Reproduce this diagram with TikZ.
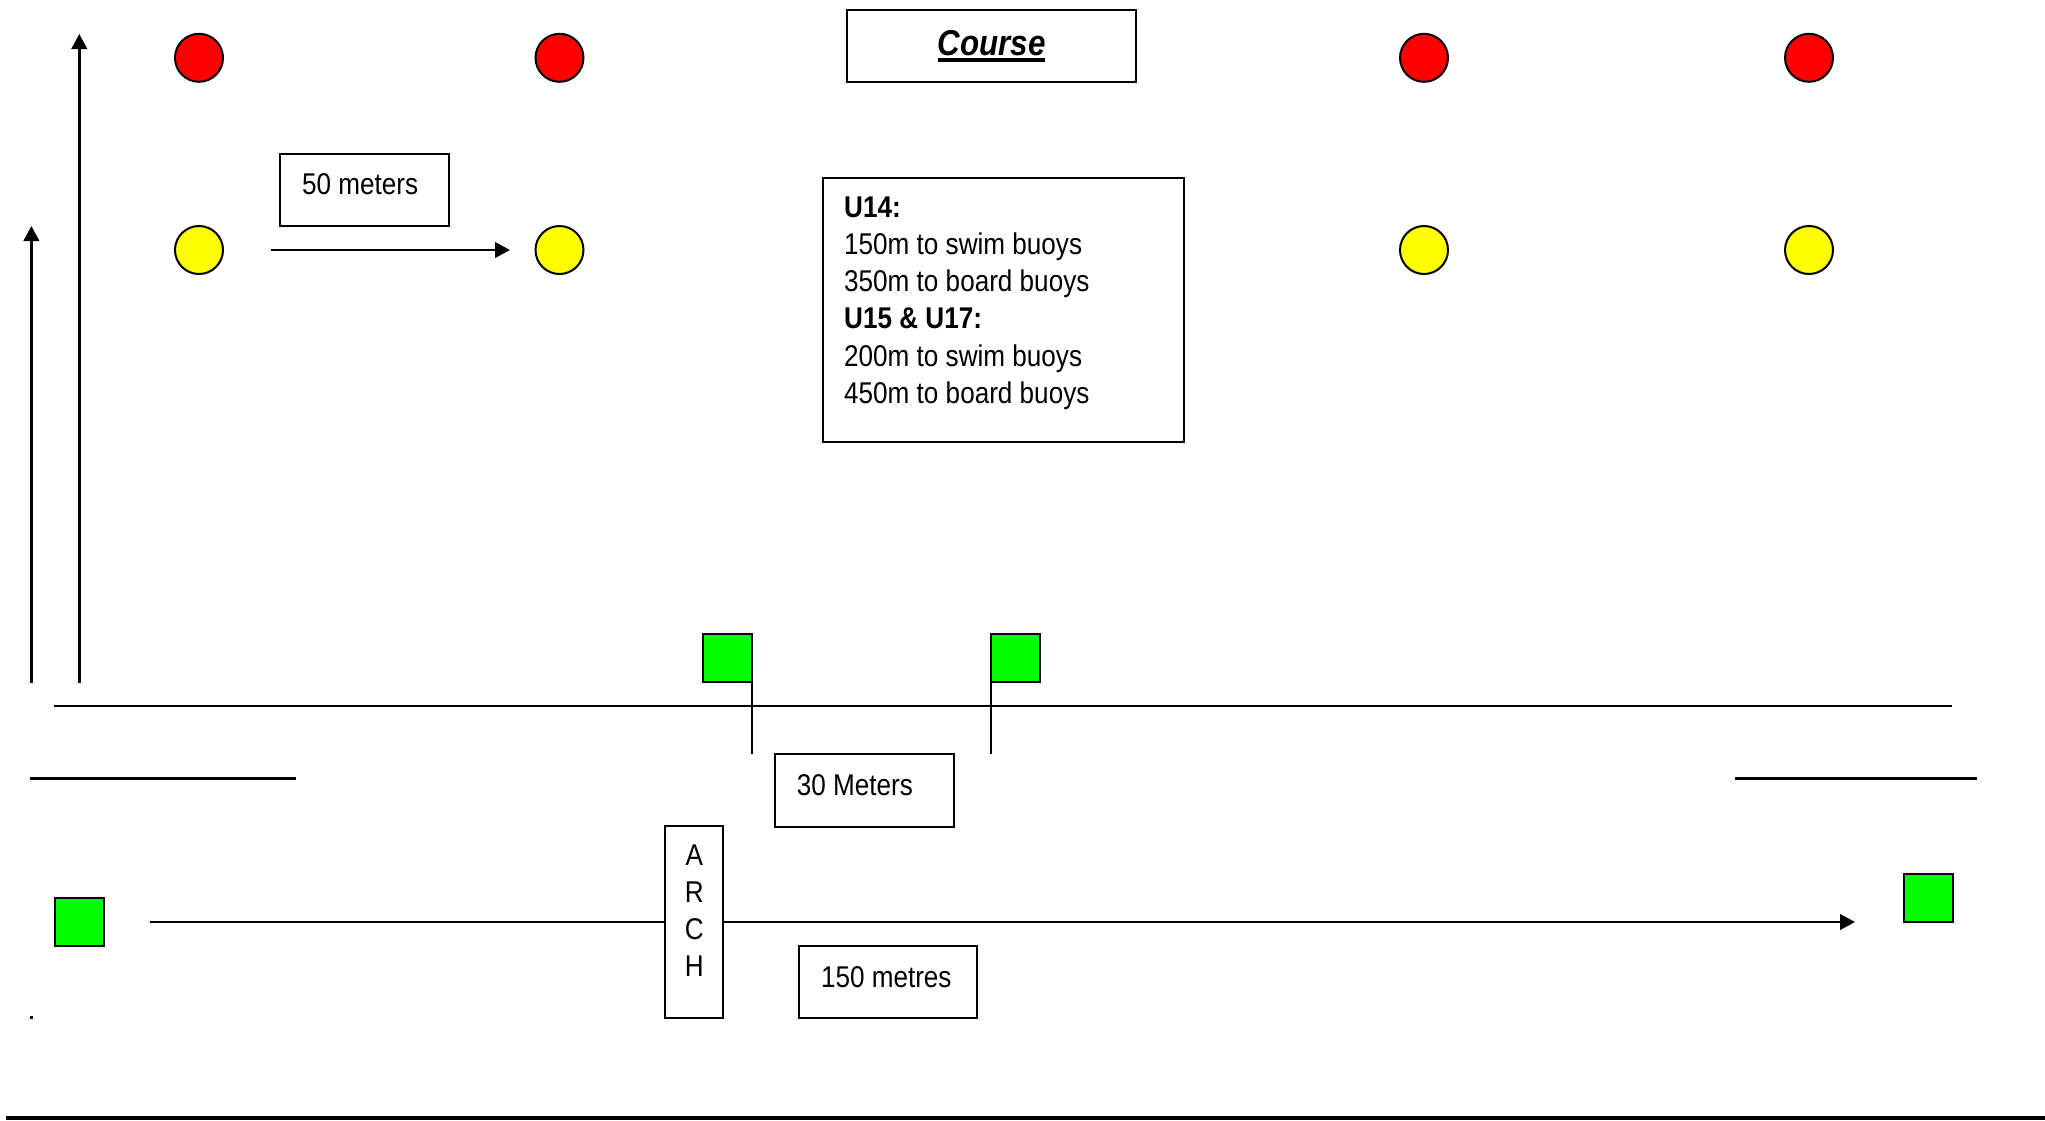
\documentclass[tikz,border=0pt]{standalone}
\usepackage{fontspec}
\setmainfont{Liberation Sans}[FakeStretch=0.87]
\usetikzlibrary{arrows.meta}
\definecolor{buoyred}{HTML}{FF0000}
\definecolor{buoyyellow}{HTML}{FFFF00}
\definecolor{flaggreen}{HTML}{00FF00}
\newcommand\myul[1]{\setbox0\hbox{#1}\rlap{\rule[-6.6pt]{\wd0}{4pt}}\box0}
\tikzset{
  frame/.style={draw, line width=2pt, fill=white, inner sep=0pt, outer sep=0pt},
  buoy/.style={circle, draw, line width=2pt, minimum size=48pt, inner sep=0pt},
  redbuoy/.style={buoy, fill=buoyred},
  yellowbuoy/.style={buoy, fill=buoyyellow},
  flag/.style={draw, line width=2pt, fill=flaggreen, minimum width=49pt, minimum height=48pt, inner sep=0pt, outer sep=0pt},
  txt/.style={inner sep=0pt, font=\fontsize{30}{37.2}\selectfont},
  arr/.style={line width=2.6pt, -{Triangle[length=15pt,width=15.5pt]}},
  line/.style={line width=2.6pt},
  pole/.style={line width=1.6pt}
}
\begin{document}
\begin{tikzpicture}[x=1pt,y=-1pt]
\useasboundingbox (0,0) rectangle (2045,1120);

% buoys
\node[redbuoy] (r1) at (199,57.8) {};
\node[redbuoy] (r2) at (559.5,57.8) {};
\node[redbuoy] (r3) at (1424,57.8) {};
\node[redbuoy] (r4) at (1809,57.8) {};
\node[yellowbuoy] (y1) at (199,250) {};
\node[yellowbuoy] (y2) at (559.5,250) {};
\node[yellowbuoy] (y3) at (1424,250) {};
\node[yellowbuoy] (y4) at (1809,250) {};

% course title
\node[frame, minimum width=289pt, minimum height=72pt] (course) at (991.5,46) {};
\node[txt, anchor=base, font=\fontsize{36}{40}\selectfont\bfseries\itshape] (coursetxt) at (991.5,55) {\myul{Course}};

% info box
\node[frame, minimum width=361pt, minimum height=264pt] (info) at (1003.5,310) {};
\node[txt, anchor=north west, align=left] (infotxt) at (844,196.5)
  {\textbf{U14:}\\150m to swim buoys\\350m to board buoys\\\textbf{U15 \& U17:}\\200m to swim buoys\\450m to board buoys};

% 50 meters
\node[frame, minimum width=169pt, minimum height=72pt] (fifty) at (364.5,190) {};
\node[txt, anchor=base west] (fiftytxt) at (302,194) {50 meters};
\coordinate (fa) at (270.5,250);
\coordinate (fb) at (510,250);
\draw[arr] (fa) -- (fb);

% left arrows
\coordinate (la1) at (79.3,682.5);
\coordinate (la2) at (79.3,34);
\coordinate (sa1) at (31.4,682.5);
\coordinate (sa2) at (31.4,226);
\draw[arr] (la1) -- (la2);
\draw[arr] (sa1) -- (sa2);

% shore line
\coordinate (s1) at (53.5,706);
\coordinate (s2) at (1952,706);
\draw[line] (s1) -- (s2);

% flags with poles
\node[flag] (fA) at (727.5,658) {};
\node[flag] (fB) at (1015.5,658) {};
\coordinate (pA) at (fA.south east |- 0,754);
\coordinate (pB) at (fB.south west |- 0,754);
\draw[pole] (fA.south east) -- (pA);
\draw[pole] (fB.south west) -- (pB);

% 30 meters
\node[frame, minimum width=178.7pt, minimum height=73pt] (thirty) at (864.4,790.2) {};
\node[txt, anchor=base west] (thirtytxt) at (796.7,795) {30 Meters};

% lower short lines
\coordinate (ll1) at (30,778.4);
\coordinate (ll2) at (296,778.4);
\coordinate (lr1) at (1735,778.4);
\coordinate (lr2) at (1976.7,778.4);
\draw[line] (ll1) -- (ll2);
\draw[line] (lr1) -- (lr2);

% arch and run
\node[frame, minimum width=57.6pt, minimum height=192.3pt] (arch) at (693.8,922) {};
\node[txt, anchor=north, align=center, font=\fontsize{30}{37.3}\selectfont] (archtxt) at (694.3,844.2) {A\\R\\C\\H};
\node[flag] (fL) at (79.2,922.2) {};
\node[flag] (fR) at (1928.2,898) {};
\coordinate (run1) at (150,922);
\coordinate (run2) at (1855,922);
\draw[line] (run1) -- (run1 -| arch.west);
\draw[arr] (run2 -| arch.east) -- (run2);

% 150 metres
\node[frame, minimum width=178pt, minimum height=72.6pt] (onefifty) at (888,982) {};
\node[txt, anchor=base west] (onefiftytxt) at (820.8,987.7) {150 metres};

% small dot
\node[fill=black, minimum size=2.5pt, inner sep=0pt] (dot) at (31.6,1017.7) {};

% bottom line
\coordinate (b1) at (6,1118);
\coordinate (b2) at (2045,1118);
\draw[line width=4pt] (b1) -- (b2);
\end{tikzpicture}
\end{document}
